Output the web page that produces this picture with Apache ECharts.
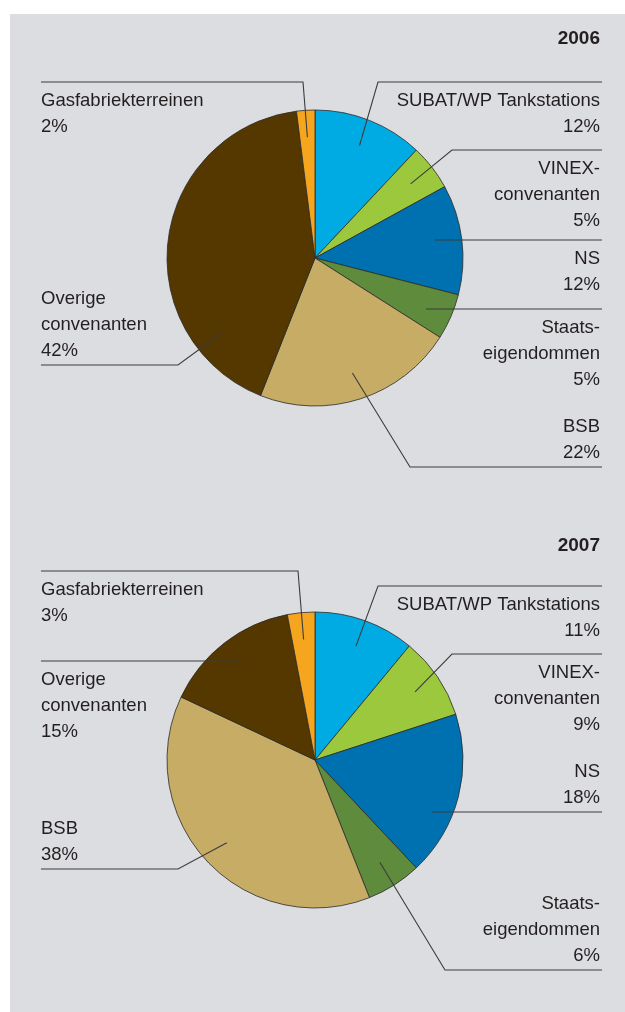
<!DOCTYPE html>
<html>
<head>
<meta charset="utf-8">
<title>Verdeling per convenant 2006–2007</title>
<script src="https://cdn.jsdelivr.net/npm/echarts@6/dist/echarts.min.js"></script>
<style>
  html, body { margin: 0; padding: 0; background: #ffffff; }
  #panel { position: absolute; left: 10px; top: 14px; right: 0; bottom: 0; background: #dcdde0; }
  #chart { position: absolute; left: 0; top: 0; width: 625px; height: 1012px; }
</style>
</head>
<body>
<div id="panel"></div>
<div id="chart"></div>
<script>
// Categories, in clockwise order starting at 12 o'clock
const categories = [
  'SUBAT/WP Tankstations',
  'VINEX-\nconvenanten',
  'NS',
  'Staats-\neigendommen',
  'BSB',
  'Overige\nconvenanten',
  'Gasfabriekterreinen'
];
const years = ['2006', '2007'];
// Shares in percent
const share2006 = [12, 5, 12, 5, 22, 42, 2];
const share2007 = [11, 9, 18, 6, 38, 15, 3];

const sliceColors = ['#00aae3', '#9cc83d', '#0071b0', '#5f8b3c', '#c7ac66', '#553800', '#f6a51f'];

const FONT = '"Liberation Sans", Arial, sans-serif';
const TEXT = '#231f20';

// Callout placement: side of the label, y of the rule, x of the elbow (null = straight rule),
// optional turn (degrees, clockwise) of the anchor away from the slice's mid-angle
const callouts2006 = [
  { side: 'right', lineY: 82,  bendX: 378,  text: 'below' },
  { side: 'right', lineY: 150, bendX: 452,  text: 'below' },
  { side: 'right', lineY: 240, bendX: null, text: 'below' },
  { side: 'right', lineY: 309, bendX: null, text: 'below' },
  { side: 'right', lineY: 467, bendX: 410,  text: 'above' },
  { side: 'left',  lineY: 365, bendX: 178,  text: 'above', turn: -46 },
  { side: 'left',  lineY: 82,  bendX: 303,  text: 'below' }
];
const callouts2007 = [
  { side: 'right', lineY: 586, bendX: 378,  text: 'below' },
  { side: 'right', lineY: 654, bendX: 452,  text: 'below' },
  { side: 'right', lineY: 812, bendX: null, text: 'above' },
  { side: 'right', lineY: 970, bendX: 445,  text: 'above' },
  { side: 'left',  lineY: 869, bendX: 178,  text: 'above' },
  { side: 'left',  lineY: 661, bendX: null, text: 'below' },
  { side: 'left',  lineY: 571, bendX: 298,  text: 'below' }
];

const RIGHT_X = 600;
const LEFT_X = 41;
const PIE_R = 148;
const ANCHOR_R = 121;

function toData(values) {
  return values.map((v, i) => ({ name: categories[i], value: v, itemStyle: { color: sliceColors[i] } }));
}

function calloutLayout(callouts, center) {
  return function (p) {
    const c = callouts[p.dataIndex];
    const right = c.side === 'right';
    const below = c.text === 'below';
    const res = {
      x: right ? RIGHT_X : LEFT_X,
      y: below ? c.lineY + 5.8 : c.lineY - 1.4,
      align: right ? 'right' : 'left',
      verticalAlign: below ? 'top' : 'bottom'
    };
    const pts = p.labelLinePoints;
    if (pts && pts.length) {
      let s = pts[0];
      if (c.turn) {
        // swing the anchor around the pie centre
        const t = c.turn * Math.PI / 180;
        const vx = s[0] - center[0], vy = s[1] - center[1];
        s = [center[0] + vx * Math.cos(t) - vy * Math.sin(t),
             center[1] + vx * Math.sin(t) + vy * Math.cos(t)];
      }
      const endX = right ? RIGHT_X + 2 : LEFT_X;
      res.labelLinePoints = c.bendX == null
        ? [[s[0], c.lineY], [(s[0] + endX) / 2, c.lineY], [endX, c.lineY]]
        : [[s[0], s[1]], [c.bendX, c.lineY], [endX, c.lineY]];
    }
    return res;
  };
}

function pieSeries(values, center) {
  return {
    type: 'pie',
    z: 1,
    center: center,
    radius: [0, PIE_R],
    startAngle: 90,
    clockwise: true,
    silent: true,
    animation: false,
    label: { show: false },
    labelLine: { show: false },
    itemStyle: { borderColor: '#2a2a2a', borderWidth: 0.8 },
    data: toData(values)
  };
}

// Invisible inner ring that carries the callouts, anchored inside each slice
function calloutSeries(values, center, callouts) {
  return {
    type: 'pie',
    z: 3,
    center: center,
    radius: [0, ANCHOR_R],
    startAngle: 90,
    clockwise: true,
    silent: true,
    animation: false,
    avoidLabelOverlap: false,
    itemStyle: { color: 'rgba(0,0,0,0)', borderWidth: 0 },
    label: {
      show: true,
      position: 'outside',
      fontFamily: FONT,
      fontSize: 18.5,
      lineHeight: 26,
      color: TEXT,
      formatter: (p) => p.name + '\n' + p.value + '%'
    },
    labelLine: { show: true, length: 10, length2: 10, lineStyle: { color: '#3c3c3c', width: 1.1 } },
    labelLayout: calloutLayout(callouts, center),
    data: values.map((v, i) => ({ name: categories[i], value: v }))
  };
}

const chart = echarts.init(document.getElementById('chart'), null, { renderer: 'canvas' });
const titleStyle = { fontFamily: FONT, fontSize: 19, lineHeight: 22, fontWeight: 'bold', color: TEXT };
chart.setOption({
  backgroundColor: 'transparent',
  title: [
    { text: years[0], right: 25, top: 28, padding: 0, textStyle: titleStyle },
    { text: years[1], right: 25, top: 535, padding: 0, textStyle: titleStyle }
  ],
  series: [
    pieSeries(share2006, [315, 258]),
    calloutSeries(share2006, [315, 258], callouts2006),
    pieSeries(share2007, [315, 760]),
    calloutSeries(share2007, [315, 760], callouts2007)
  ]
});
</script>
</body>
</html>
